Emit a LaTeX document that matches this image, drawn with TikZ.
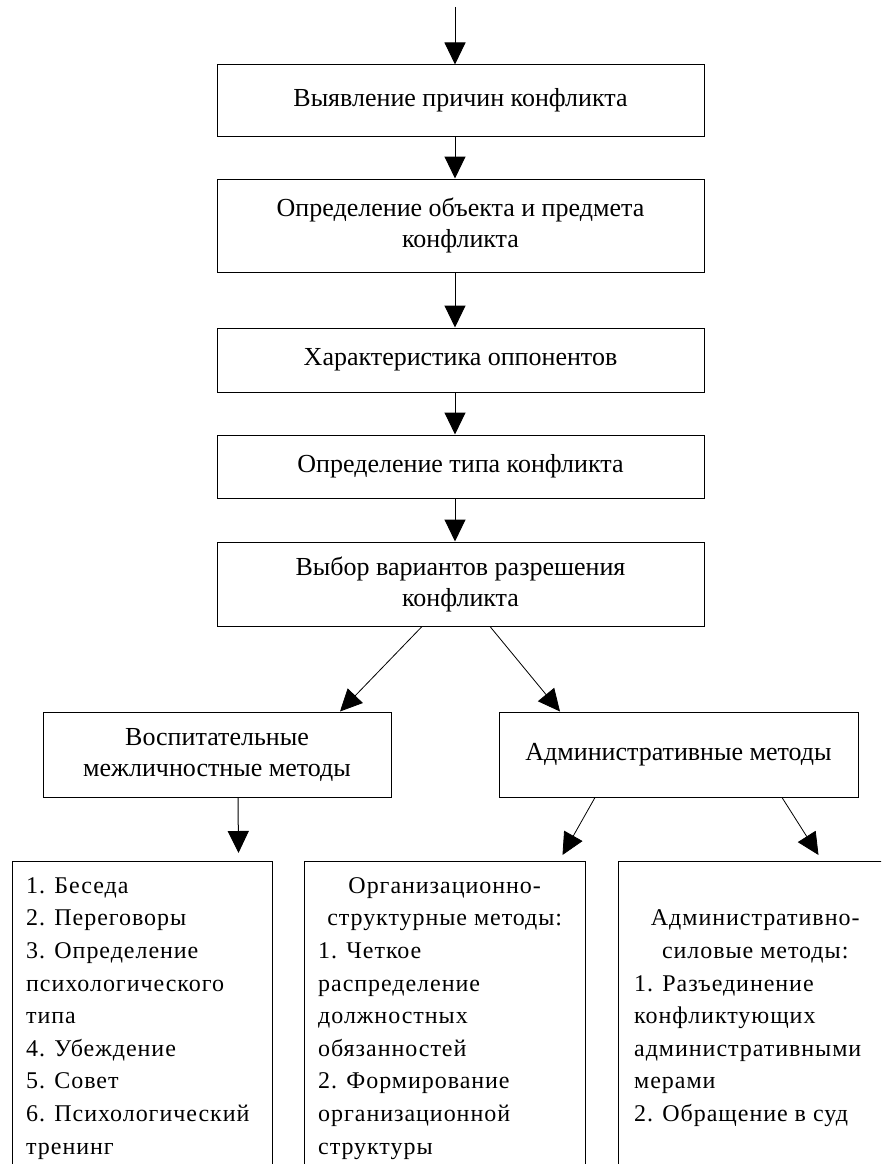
\documentclass[tikz,border=0pt]{standalone}
\usepackage{fontspec}
\setmainfont{Liberation Serif}
\newfontfamily\listfont[LetterSpace=4]{Liberation Serif}
\usetikzlibrary{arrows.meta}
\newcommand{\firststrut}{\rule{0pt}{20pt}}
\begin{document}
\begin{tikzpicture}[x=1pt,y=-1pt,
  box/.style={draw, line width=1pt, inner sep=0pt, align=center, font=\fontsize{26}{31}\selectfont},
  arr/.style={line width=1pt, -{Triangle[width=21pt,length=22pt]}},
  darr/.style={line width=0.8pt, -{Triangle[width=21pt,length=22pt]}},
  listtext/.style={anchor=north west, inner sep=0pt, align=left, font=\listfont\fontsize{24}{32.6}\selectfont},
  frame/.style={draw, line width=1pt, anchor=north west, inner sep=0pt, minimum height=330}]
\useasboundingbox (0,0) rectangle (881,1164);
\clip (0,0) rectangle (881,1164);
\fill[white] (0,0) rectangle (881,1164);

\node[box, minimum width=487, minimum height=71] (b1) at (460.5,100.5) {Выявление причин конфликта};
\node[box, minimum width=487, minimum height=93] (b2) at (460.5,225.5) {Определение объекта и предмета\\ конфликта};
\node[box, minimum width=487, minimum height=64] (b3) at (460.5,360) {Характеристика оппонентов};
\node[box, minimum width=487, minimum height=63] (b4) at (460.5,466.5) {Определение типа конфликта};
\node[box, minimum width=487, minimum height=84] (b5) at (460.5,584) {Выбор вариантов разрешения\\ конфликта};
\node[box, minimum width=348, minimum height=85] (b6) at (217,754.5) {Воспитательные\\ межличностные методы};
\node[box, minimum width=359, minimum height=85] (b7) at (678.5,754.5) {Административные методы};

\node[frame, minimum width=260] (fA) at (12,861) {};
\node[frame, minimum width=281] (fB) at (304,861) {};
\node[frame, minimum width=274] (fC) at (618,861) {};

\node[listtext] (tA) at (26,873) {\firststrut 1. Беседа\\ 2. Переговоры\\ 3. Определение\\ психологического\\ типа\\ 4. Убеждение\\ 5. Совет\\ 6. Психологический\\ тренинг};
\node[listtext] (tB) at (318,873) {\firststrut\makebox[253pt][c]{Организационно-}\\ \makebox[253pt][c]{структурные методы:}\\ 1. Четкое\\ распределение\\ должностных\\ обязанностей\\ 2. Формирование\\ организационной\\ структуры};
\node[listtext] (tC) at (634,873) {\firststrut\\ \makebox[242pt][c]{Административно-}\\ \makebox[242pt][c]{силовые методы:}\\ 1. Разъединение\\ конфликтующих\\ административными\\ мерами\\ 2. Обращение в суд};

\coordinate (s) at (455,7);
\draw[arr] (s) -- (b1.north -| s);
\draw[arr] (b1.south -| s) -- (b2.north -| s);
\draw[arr] (b2.south -| s) -- (b3.north -| s);
\draw[arr] (b3.south -| s) -- (b4.north -| s);
\draw[arr] (b4.south -| s) -- (b5.north -| s);
\draw[darr] ([xshift=-38.5pt]b5.south) -- ([xshift=123pt]b6.north);
\draw[darr] ([xshift=29.5pt]b5.south) -- ([xshift=-118.5pt]b7.north);
\draw[arr] ([xshift=21pt]b6.south) -- ([xshift=96pt,yshift=8pt]fA.north);
\draw[darr] ([xshift=-83.5pt]b7.south) -- ([xshift=117.5pt,yshift=6pt]fB.north);
\draw[darr] ([xshift=103.5pt]b7.south) -- ([xshift=63pt,yshift=6pt]fC.north);
\end{tikzpicture}
\end{document}
